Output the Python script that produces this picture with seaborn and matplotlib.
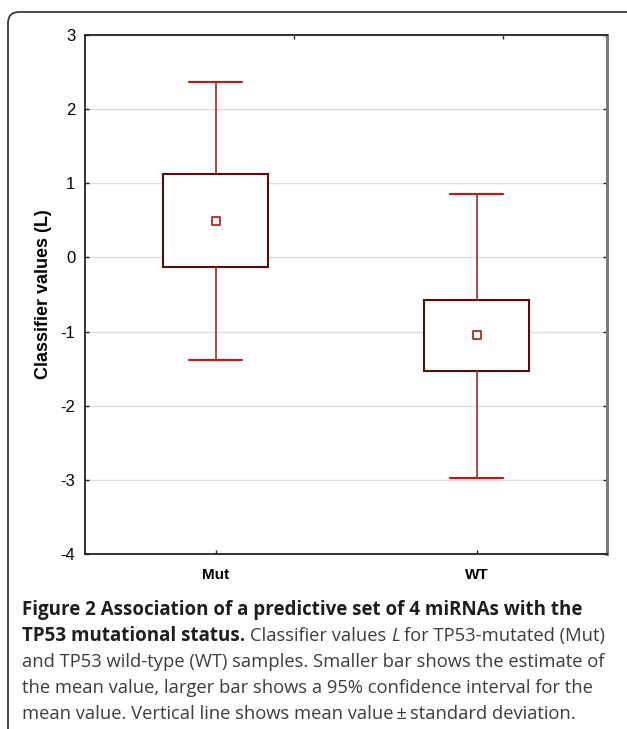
import numpy as np
import pandas as pd
import matplotlib
matplotlib.use("Agg")
import matplotlib.pyplot as plt
import seaborn as sns
from matplotlib.patches import FancyBboxPatch
from matplotlib.transforms import IdentityTransform

# ---- data ----
groups = ["Mut", "WT"]
mean_vals = [0.49, -1.05]
ci_low = [-0.13, -1.53]
ci_high = [1.12, -0.58]
sd_low = [-1.38, -2.97]
sd_high = [2.37, 0.86]
y_ticks = [-4, -3, -2, -1, 0, 1, 2, 3]
y_label = "Classifier values (L)"

sns.set_theme(style="white")
plt.rcParams['font.family'] = ['Liberation Sans', 'DejaVu Sans']

W, H = 627, 729
fig = plt.figure(figsize=(W / 100, H / 100), dpi=100)
fig.patch.set_facecolor("white")

# outer rounded frame (right and bottom edges fall outside the picture)
frame = FancyBboxPatch((8, -60), 700, 729 - 12 + 60,
                       boxstyle="round,pad=0,rounding_size=11",
                       transform=IdentityTransform(), fill=False,
                       edgecolor="#3a3a3a", linewidth=1.3, zorder=0)
fig.patches.append(frame)

ax = fig.add_axes([85 / W, 1 - 554 / H, (607 - 85) / W, (554 - 35) / H])
ax.set_facecolor("white")

pos = list(range(len(groups)))
stats = [dict(label=g, whislo=lo, q1=q1, med=m, q3=q3, whishi=hi, mean=m)
         for g, lo, q1, m, q3, hi in zip(groups, sd_low, ci_low, mean_vals, ci_high, sd_high)]
ax.bxp(stats, positions=pos, widths=0.4, capwidths=0.2, showfliers=False,
       showmeans=False, patch_artist=True,
       boxprops=dict(facecolor="white", edgecolor="#5c0b0b", linewidth=1.5),
       whiskerprops=dict(color="#a82424", linewidth=1.2),
       capprops=dict(color="#a82424", linewidth=1.6),
       medianprops=dict(linewidth=0), zorder=3)

df = pd.DataFrame({"pos": pos, "mean": mean_vals})
sns.scatterplot(data=df, x="pos", y="mean", marker="s", s=34,
                facecolor="white", edgecolor="#b02a2a", linewidth=1.3,
                ax=ax, zorder=5, legend=False)

ax.set_xlim(-0.5, len(groups) - 0.5)
ax.set_ylim(min(y_ticks), max(y_ticks))
ax.set_yticks(y_ticks)
ax.set_yticklabels([str(t) for t in y_ticks])
ax.set_xticks(pos)
ax.set_xticklabels(groups, fontweight="bold")
ax.set_xlabel("")
ax.set_ylabel("")

ax.grid(axis="y", color="#dcdcdc", linewidth=1.0)
ax.set_axisbelow(True)
ax.tick_params(axis="y", direction="in", length=3, width=1, color="#222222",
               labelsize=12, pad=7, right=True, left=True, labelcolor="black")
ax.tick_params(axis="x", direction="in", length=3, width=1, color="#222222",
               labelsize=11, pad=10, bottom=True, labelcolor="black")

for side in ["left", "bottom", "top"]:
    ax.spines[side].set_color("#222222")
    ax.spines[side].set_linewidth(1.3)
    ax.spines[side].set_visible(True)
ax.spines["right"].set_color("#7a7a7a")
ax.spines["right"].set_linewidth(2.2)
ax.spines["right"].set_visible(True)

top = ax.secondary_xaxis("top")
top.set_xticks([0.3, 1.1])
top.set_xticklabels([])
top.tick_params(direction="in", length=3, width=1, color="#222222")
top.spines["top"].set_visible(False)

fig.canvas.draw()
renderer = fig.canvas.get_renderer()

# y label, centred at x ~ 44 beside the plot
fig.text(44 / W, 1 - 294 / H, y_label, rotation=90, fontsize=13,
         fontweight="bold", color="black", ha="center", va="center")

# ---- caption ----
lines = [
    [("Figure 2 Association of a predictive set of 4 miRNAs with the", "bold", "normal")],
    [("TP53 mutational status.", "bold", "normal"), ("Classifier values", "normal", "normal"),
     ("L", "normal", "italic"), ("for TP53-mutated (Mut)", "normal", "normal")],
    [("and TP53 wild-type (WT) samples. Smaller bar shows the estimate of", "normal", "normal")],
    [("the mean value, larger bar shows a 95% confidence interval for the", "normal", "normal")],
    [("mean value. Vertical line shows mean value\u2009\u00b1\u2009standard deviation.", "normal", "normal")],
]
cap_family = ["Open Sans", "DejaVu Sans"]
line_y = [610, 636, 662, 688, 714]
x0 = 22
target_w = 603 - 22


def width_at(s, size, weight="normal", style="normal"):
    t = fig.text(0, 0, s, fontsize=size, family=cap_family, fontweight=weight, fontstyle=style)
    ww = t.get_window_extent(renderer).width
    t.remove()
    return ww


fs_reg = 13 * target_w / width_at(lines[2][0][0], 13)
fs_bold = fs_reg * 1.02
space_w = width_at("a a", fs_reg) - width_at("aa", fs_reg)

for segs, yy in zip(lines, line_y):
    x = x0
    for i, (s, weight, style) in enumerate(segs):
        if i > 0:
            x += space_w
        size = fs_bold if weight == "bold" else fs_reg
        color = "#1e1e1e" if weight == "bold" else "#3c3c3c"
        fig.text(x / W, 1 - yy / H, s, fontsize=size, family=cap_family,
                 fontweight=weight, fontstyle=style, color=color,
                 va="center", ha="left")
        x += width_at(s, size, weight, style)

fig.savefig("out.png", dpi=100, facecolor="white")
